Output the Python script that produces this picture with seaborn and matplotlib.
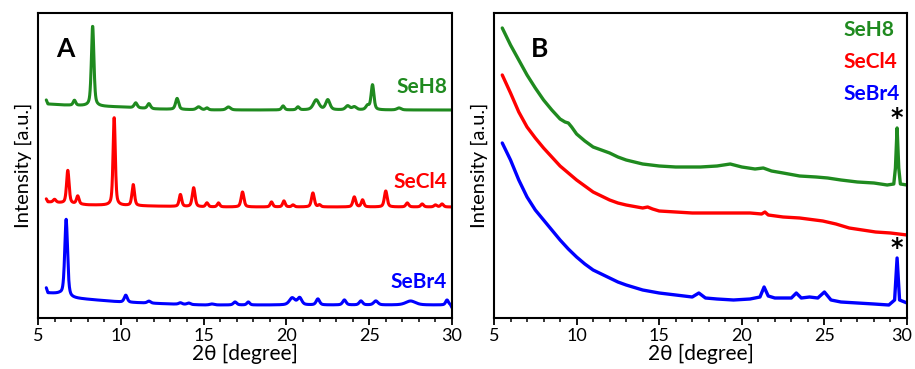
import numpy as np
import pandas as pd
import matplotlib.pyplot as plt
import matplotlib.transforms as mtransforms
import seaborn as sns
from matplotlib.ticker import MultipleLocator

sns.set_theme(style="white")
plt.rcParams['font.family'] = ['Lato', 'DejaVu Sans']
plt.rcParams['text.color'] = 'black'
plt.rcParams['axes.labelcolor'] = 'black'

GREEN = '#1f8a1f'
RED = '#ff0000'
BLUE = '#0000ff'

# ---- Panel A: crystalline patterns (baseline nodes + peak list)
a_seh8_base_x = [5.5, 5.6, 6.5, 8.0, 10.0, 12.0, 15.0, 20.0, 25.0, 30.0]
a_seh8_base_y = [218, 214, 213, 212, 211, 209, 208, 208, 208, 208]
a_seh8_pk_pos = [7.2, 8.3, 10.9, 11.7, 13.4, 14.7, 15.2, 16.5, 19.8, 20.7, 21.8, 22.5, 23.7, 24.1, 24.9, 25.2, 26.8]
a_seh8_pk_h = [5, 80, 5, 5, 11, 3, 2, 3, 4, 3, 10, 10, 4, 3, 4, 25, 2]
a_seh8_pk_w = [0.09, 0.09, 0.11, 0.11, 0.11, 0.15, 0.1, 0.15, 0.1, 0.1, 0.2, 0.15, 0.15, 0.15, 0.12, 0.1, 0.15]

a_secl4_base_x = [5.5, 5.6, 8.0, 15.0, 30.0]
a_secl4_base_y = [119, 116, 113, 111, 111]
a_secl4_pk_pos = [6.0, 6.8, 7.4, 9.6, 10.75, 13.6, 14.4, 15.2, 15.9, 17.35, 19.1, 19.85, 20.4, 21.6, 22.0,
                  24.1, 24.6, 26.0, 27.3, 28.2, 29.0, 29.4]
a_secl4_pk_h = [3, 33, 8, 88, 21, 12, 19, 4, 4, 15, 5, 6, 2, 14, 2, 10, 7, 16, 4, 3, 2, 3]
a_secl4_pk_w = [0.1, 0.09, 0.09, 0.08, 0.09, 0.09, 0.1, 0.09, 0.09, 0.1, 0.09, 0.09, 0.09, 0.1, 0.09,
                0.1, 0.09, 0.1, 0.1, 0.1, 0.1, 0.1]

a_sebr4_base_x = [5.5, 5.6, 6.3, 7.0, 10.0, 13.0, 15.0, 20.0, 25.0, 29.9, 30.0]
a_sebr4_base_y = [30, 25, 24, 20, 16, 14, 13, 13, 13, 13, 10]
a_sebr4_pk_pos = [6.7, 10.3, 11.7, 13.6, 14.1, 15.5, 16.9, 17.7, 20.35, 20.8, 21.9, 23.5, 24.5, 25.4, 27.5, 29.7]
a_sebr4_pk_h = [77, 7, 2, 1.5, 1.5, 1, 3, 3, 7, 7, 6, 5, 4, 4, 4, 5]
a_sebr4_pk_w = [0.1, 0.11, 0.12, 0.12, 0.12, 0.15, 0.12, 0.1, 0.2, 0.15, 0.12, 0.12, 0.12, 0.15, 0.35, 0.1]

# ---- Panel B: amorphous patterns
b_seh8_x = [5.5, 6.0, 6.5, 7.0, 7.5, 8.0, 8.5, 9.0, 9.3, 9.5, 9.7, 10.0, 10.5, 11.0, 11.5, 12.0, 12.5, 13.0,
            14.0, 15.0, 16.0, 17.0, 17.5, 18.5, 19.3, 20.0, 20.8, 21.3, 21.8, 22.5, 23.5, 24.5, 25.2, 26.0, 27.0,
            28.0, 28.8, 29.2, 29.3, 29.4, 29.5, 29.6, 30.0]
b_seh8_y = [290, 273, 258, 243, 230, 218, 208, 199, 196, 195, 191, 184, 177, 171, 168, 165, 161, 158,
            154, 152, 151, 151, 151, 152, 154, 151, 149, 150, 147, 145, 142, 141, 140, 138, 136,
            135, 133, 134, 150, 190, 150, 134, 133]
b_secl4_x = [5.5, 6.0, 6.5, 7.0, 7.5, 8.0, 8.5, 9.0, 9.5, 10.0, 10.5, 11.0, 11.5, 12.0, 12.5, 13.0, 14.0,
             14.3, 14.6, 15.0, 16.0, 17.0, 18.0, 19.0, 20.5, 21.2, 21.4, 21.6, 22.5, 23.5, 24.9, 25.7, 26.5,
             27.3, 28.1, 29.0, 30.0]
b_secl4_y = [243, 225, 206, 191, 180, 170, 161, 152, 145, 138, 132, 126, 122, 118, 115, 113, 110,
             111, 109, 107, 106, 105, 105, 105, 105, 104, 106, 103, 101, 100, 97, 94, 90,
             88, 86, 85, 83]
b_sebr4_x = [5.5, 6.0, 6.5, 7.0, 7.5, 8.0, 8.5, 9.0, 9.5, 10.0, 10.5, 11.0, 11.5, 12.0, 12.5, 13.0, 14.0,
             15.0, 16.0, 17.0, 17.4, 17.8, 18.5, 19.5, 20.5, 21.1, 21.35, 21.6, 22.0, 23.0, 23.3, 23.6, 24.1,
             24.6, 25.0, 25.4, 26.0, 27.0, 28.0, 28.9, 29.25, 29.4, 29.55, 30.0]
b_sebr4_y = [175, 158, 138, 121, 108, 98, 88, 78, 69, 61, 54, 48, 44, 40, 36, 33, 28,
             25, 23, 21, 25, 20, 19, 18, 19, 21, 31, 22, 20, 20, 25, 20, 21,
             20, 26, 18, 16, 15, 14, 13, 18, 60, 18, 15]

labels = ['SeH8', 'SeCl4', 'SeBr4']
colors = [GREEN, RED, BLUE]


def pattern(grid, base_x, base_y, pos, h, w):
    y = np.interp(grid, base_x, base_y)
    for p, hh, ww in zip(pos, h, w):
        y = y + hh * (0.5 * np.exp(-((grid - p) / ww) ** 2 * np.log(2)) + 0.5 / (1 + ((grid - p) / ww) ** 2))
    return y


grid = np.linspace(5.5, 30, 2000)
rows = []
for name, bx, by, pp, ph, pw in [
        ('SeH8', a_seh8_base_x, a_seh8_base_y, a_seh8_pk_pos, a_seh8_pk_h, a_seh8_pk_w),
        ('SeCl4', a_secl4_base_x, a_secl4_base_y, a_secl4_pk_pos, a_secl4_pk_h, a_secl4_pk_w),
        ('SeBr4', a_sebr4_base_x, a_sebr4_base_y, a_sebr4_pk_pos, a_sebr4_pk_h, a_sebr4_pk_w)]:
    rows.append(pd.DataFrame({'two_theta': grid, 'intensity': pattern(grid, bx, by, pp, ph, pw), 'sample': name}))
df_a = pd.concat(rows)

df_b = pd.concat([
    pd.DataFrame({'two_theta': b_seh8_x, 'intensity': b_seh8_y, 'sample': 'SeH8'}),
    pd.DataFrame({'two_theta': b_secl4_x, 'intensity': b_secl4_y, 'sample': 'SeCl4'}),
    pd.DataFrame({'two_theta': b_sebr4_x, 'intensity': b_sebr4_y, 'sample': 'SeBr4'}),
])

fig = plt.figure(figsize=(9.15, 3.69), dpi=100)
ax_a = fig.add_axes([38 / 915, 1 - 318 / 369, 414 / 915, 305 / 369])
ax_b = fig.add_axes([494 / 915, 1 - 318 / 369, 413 / 915, 305 / 369])

pal = dict(zip(labels, colors))
sns.lineplot(data=df_a, x='two_theta', y='intensity', hue='sample', palette=pal,
             linewidth=2.2, legend=False, ax=ax_a, sort=False)
sns.lineplot(data=df_b, x='two_theta', y='intensity', hue='sample', palette=pal,
             linewidth=2.4, legend=False, ax=ax_b, sort=False)

for ax in (ax_a, ax_b):
    ax.set_xlim(5, 30)
    ax.set_ylim(0, 305)
    ax.set_yticks([])
    ax.set_xticks([5, 10, 15, 20, 25, 30])
    ax.xaxis.set_minor_locator(MultipleLocator(1))
    ax.tick_params(axis='x', which='major', direction='out', length=5, width=1.3,
                   bottom=True, labelsize=13, pad=2, colors='black')
    ax.tick_params(axis='x', which='minor', direction='out', length=3, width=1.3, bottom=True)
    for s in ax.spines.values():
        s.set_color('black')
        s.set_linewidth(1.5)
    ax.set_xlabel('2θ [degree]', fontsize=15, labelpad=0)
    ax.set_ylabel('Intensity [a.u.]', fontsize=14.5, labelpad=4)

# last tick label of panel B sits a little left, as in the original
last = ax_b.xaxis.get_major_ticks()[-1].label1
last.set_transform(last.get_transform() + mtransforms.ScaledTranslation(-5 / 100, 0, fig.dpi_scale_trans))

ax_a.text(0.045, 0.92, 'A', transform=ax_a.transAxes, fontsize=19, fontweight='bold', va='top', ha='left')
ax_b.text(0.09, 0.92, 'B', transform=ax_b.transAxes, fontsize=19, fontweight='bold', va='top', ha='left')

for lab, col, yv in zip(labels, colors, [231, 136, 36]):
    ax_a.text(29.7, yv, lab, color=col, fontsize=15, fontweight='bold', ha='right', va='center')
for lab, col, yf in zip(labels, colors, [0.945, 0.84, 0.735]):
    ax_b.text(0.845, yf, lab, color=col, fontsize=15, fontweight='bold', ha='left', va='center',
              transform=ax_b.transAxes)

ax_b.text(29.4, 200, '*', fontsize=17, fontweight='bold', family='DejaVu Sans',
          ha='center', va='center', color='black')
ax_b.text(29.4, 70, '*', fontsize=17, fontweight='bold', family='DejaVu Sans',
          ha='center', va='center', color='black')

fig.savefig('out.png', dpi=100)
